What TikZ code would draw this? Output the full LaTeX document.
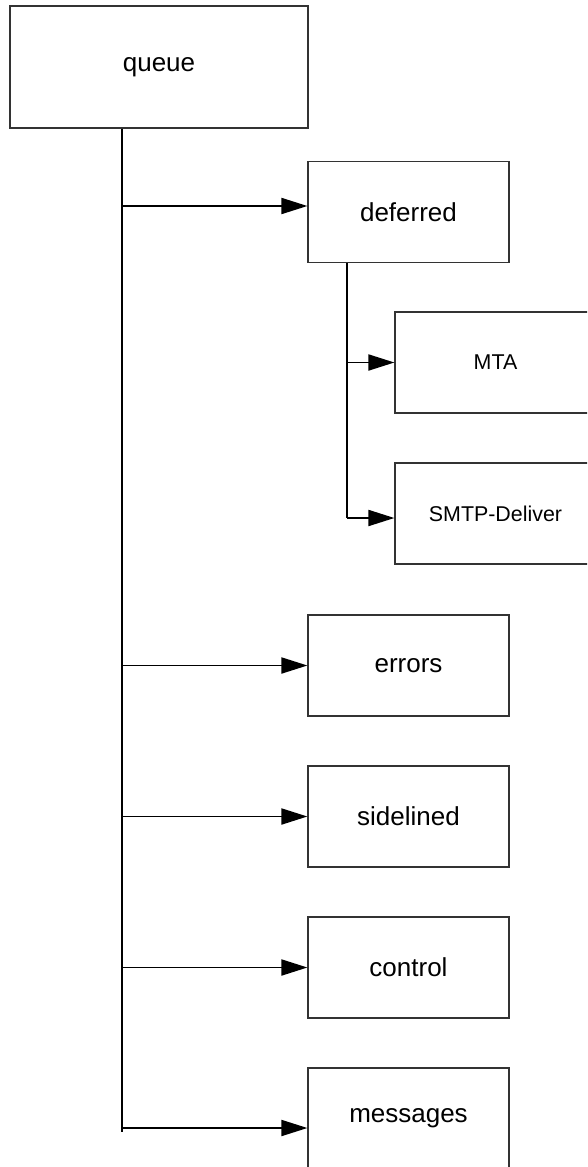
\documentclass[tikz,border=0pt]{standalone}
\usepackage{fontspec}
\setmainfont{Liberation Sans}
\usetikzlibrary{arrows.meta}
\begin{document}
\begin{tikzpicture}[x=1pt,y=-1pt,
  box/.style={draw=black!80,line width=1.2pt,fill=white,rectangle,inner sep=0pt,
    minimum width=201pt,minimum height=101pt,font=\fontsize{26}{30}\selectfont},
  subbox/.style={box,font=\fontsize{21.4}{26}\selectfont},
  link/.style={line width=1.9pt,black},
  arr/.style={link,-{Triangle[length=26pt,width=16pt]}}]
  \useasboundingbox (0,0) rectangle (587,1167);
  \clip (0,0) rectangle (587,1167);

  % directory boxes
  \node[box,minimum width=298pt,minimum height=122pt] (queue) at (159,67) {queue};
  \node[box] (deferred)  at (408.5,212)    {deferred};
  \node[subbox] (mta)    at (495.5,362.5)  {MTA};
  \node[subbox] (smtp)   at (495.5,513.5)  {SMTP-Deliver};
  \node[box] (errors)    at (408.5,665.5)  {errors};
  \node[box] (sidelined) at (408.5,816.5)  {sidelined};
  \node[box] (control)   at (408.5,967.5)  {control};
  \node[box] (messages)  at (408.5,1118.5) {messages};

  % arrow entry points that sit off the box centre line
  \coordinate (deferredIn) at ([yshift=6pt]deferred.west);
  \coordinate (messagesIn) at ([yshift=-9.5pt]messages.west);

  % main trunk below queue
  \coordinate (trunkEnd) at (122,1132);
  \draw[link] (queue.south -| trunkEnd) -- (trunkEnd);
  \draw[arr] (trunkEnd |- deferredIn) -- (deferredIn);
  \draw[arr] (trunkEnd |- errors.west) -- (errors.west);
  \draw[arr] (trunkEnd |- sidelined.west) -- (sidelined.west);
  \draw[arr] (trunkEnd |- control.west) -- (control.west);
  \draw[arr] (trunkEnd |- messagesIn) -- (messagesIn);

  % sub trunk below deferred
  \coordinate (subEnd) at (347,518);
  \draw[link] (deferred.south -| subEnd) -- (subEnd);
  \draw[arr] (subEnd |- mta.west) -- (mta.west);
  \draw[arr] (subEnd) -- (subEnd -| smtp.west);
\end{tikzpicture}
\end{document}
